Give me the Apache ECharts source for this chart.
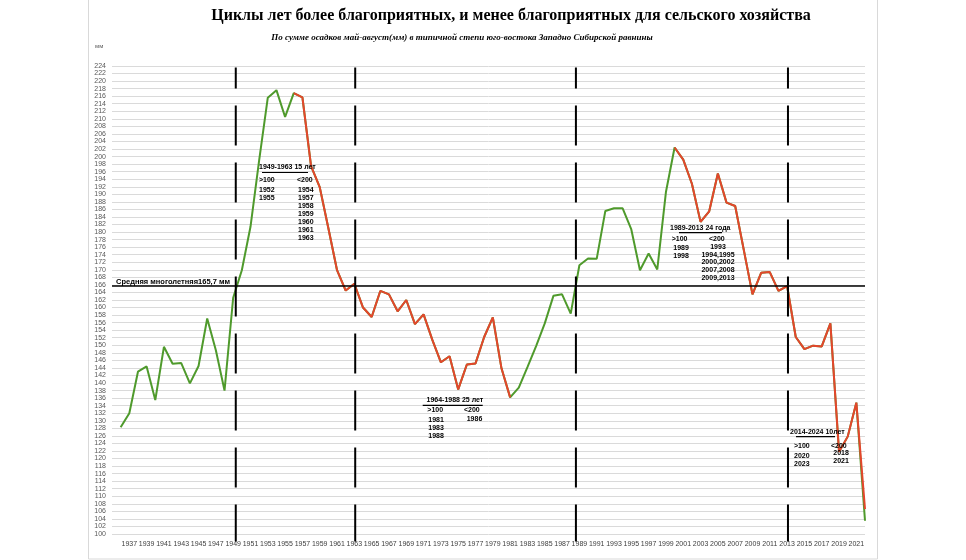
<!DOCTYPE html>
<html>
<head>
<meta charset="utf-8">
<script src="https://cdn.jsdelivr.net/npm/echarts@6/dist/echarts.min.js"></script>
<style>html,body{margin:0;padding:0;background:#fff}#c{width:966px;height:560px}</style>
</head>
<body>
<div id="c"></div>
<script>
// ---- data ----
const years = [];
for (let y = 1936; y <= 2022; y++) years.push(y);
const precipitation = [
  128.3, 132.0, 143.0, 144.4, 135.5, 149.6, 145.1, 145.3, 139.9, 144.5, // 1936-1945
  157.1, 148.7, 138.0, 162.6, 169.9, 181.4, 199.0, 215.6, 217.6, 210.5, // 1946-1955
  216.8, 215.7, 197.5, 191.9, 181.0, 169.9, 164.5, 166.3, 160.0, 157.5, // 1956-1965
  164.4, 163.5, 159.0, 162.0, 155.6, 158.2, 151.5, 145.5, 147.1, 138.3, // 1966-1975
  144.9, 145.2, 152.2, 157.4, 143.9, 136.2, 138.8, 144.2, 149.8, 155.8, // 1976-1985
  163.1, 163.5, 158.4, 171.2, 173.0, 172.9, 185.6, 186.3, 186.3, 180.7, // 1986-1995
  169.9, 174.3, 170.1, 190.6, 202.4, 199.2, 192.8, 182.7, 185.5, 195.5, // 1996-2005
  187.8, 186.9, 175.2, 163.5, 169.2, 169.4, 164.4, 165.7, 152.2, 149.0, // 2006-2015
  149.9, 149.7, 155.8, 121.8, 125.8, 134.8, 103.5                       // 2016-2022
];
// unfavourable (red) periods drawn over the green line
const redRanges = [[1956, 1981], [2000, 2022]];
const redEndValue2022 = 106.6;
const meanValue = 165.7;
const cycleBoundaries = [1949.3, 1963.1, 1988.6, 2013.1];
const boundaryBottom = 98.0;
const boundaryTop = 223.6;
const titleText = 'Циклы лет более благоприятных, и менее благоприятных для сельского хозяйства';
const subtitleText = 'По сумме осадков май-август(мм) в типичной степи юго-востока Западно Сибирской равнины';
const meanLabel = 'Средняя многолетняя165,7 мм';

// annotation blocks
const blocks = [
  { head: '1949-1963 15 лет', more: ['1952', '1955'], less: ['1954', '1957', '1958', '1959', '1960', '1961', '1963'] },
  { head: '1964-1988 25 лет', more: ['1981', '1983', '1988'], less: ['1986'] },
  { head: '1989-2013 24 года', more: ['1989', '1998'], less: ['1993', '1994,1995', '2000,2002', '2007,2008', '2009,2013'] },
  { head: '2014-2024 10лет', more: ['2020', '2023'], less: ['2018', '2021'] }
];

// ---- build ----
const greenData = years.map((y, i) => [y, precipitation[i]]);
const redData = years.map((y, i) => {
  const inRed = redRanges.some(r => y >= r[0] && y <= r[1]);
  if (!inRed) return [y, null];
  if (y === 2022) return [y, redEndValue2022];
  return [y, precipitation[i]];
});

const chart = echarts.init(document.getElementById('c'));

const layout = [
  { hx: 259, hy: 167, ul: [262, 308, 172.5], mx: 259, my: 180, lx: 297, ly: 180,
    moreX: 259, moreY: 189.7, lessX: 298, lessY: 190, step: 8, lessAlign: 'left' },
  { hx: 426.5, hy: 399.7, ul: [422.7, 482.7, 405.3], mx: 427.3, my: 410.3, lx: 464, ly: 410.3,
    moreX: 428.3, moreY: 420.3, lessX: 466.7, lessY: 418.7, step: 8, lessAlign: 'left' },
  { hx: 670, hy: 227.7, ul: [679, 722, 232.7], mx: 671.7, my: 239.3, lx: 709, ly: 239.3,
    moreX: 673.3, moreY: 247.7, lessX: 718, lessY: 246.7, step: 7.9, lessAlign: 'center' },
  { hx: 790, hy: 431.7, ul: [796, 835, 436.7], mx: 794, my: 445.7, lx: 831, ly: 445.7,
    moreX: 794, moreY: 455.7, lessX: 833.3, lessY: 453, step: 8, lessAlign: 'left' }
];

const annFont = 'bold 7px "Liberation Sans", Arial, sans-serif';
const graphics = [];
function txt(text, x, y, font, align, color) {
  graphics.push({ type: 'text', x: x, y: y, silent: true, z: 10,
    style: { text: text, font: font, fill: color || '#000', textAlign: align || 'left', textVerticalAlign: 'middle' } });
}
blocks.forEach((b, k) => {
  const L = layout[k];
  txt(b.head, L.hx, L.hy, annFont);
  graphics.push({ type: 'line', silent: true, z: 10,
    shape: { x1: L.ul[0], y1: L.ul[2], x2: L.ul[1], y2: L.ul[2] },
    style: { stroke: '#000', lineWidth: 1.2 } });
  txt('>100', L.mx, L.my, annFont);
  txt('<200', L.lx, L.ly, annFont);
  b.more.forEach((t, i) => txt(t, L.moreX, L.moreY + i * L.step, annFont));
  b.less.forEach((t, i) => txt(t, L.lessX, L.lessY + i * L.step, annFont, L.lessAlign));
});
txt(titleText, 511, 16, 'bold 16px "Liberation Serif", "Times New Roman", serif', 'center');
txt(subtitleText, 462, 38, 'italic bold 9px "Liberation Serif", "Times New Roman", serif', 'center');
txt('мм', 95, 46, '6px "Liberation Sans", Arial, sans-serif', 'left', '#595959');
txt(meanLabel, 116, 281.5, 'bold 7.5px "Liberation Sans", Arial, sans-serif');
graphics.push({ type: 'rect', silent: true, z: -1,
  shape: { x: 88.5, y: -1, width: 789, height: 560 },
  style: { fill: 'none', stroke: '#d9d9d9', lineWidth: 1 } });

chart.setOption({
  animation: false,
  backgroundColor: '#fff',
  grid: { left: 112, right: 101, top: 66, bottom: 26 },
  xAxis: {
    type: 'value', min: 1935, max: 2022, interval: 1,
    axisLine: { show: false }, axisTick: { show: false }, splitLine: { show: false },
    axisLabel: {
      margin: 7, fontSize: 7, color: '#404040', fontFamily: '"Liberation Sans", Arial, sans-serif',
      formatter: v => (v % 2 === 1 && v >= 1937) ? String(v) : ''
    }
  },
  yAxis: {
    type: 'value', min: 100, max: 224, interval: 2,
    axisLine: { show: false }, axisTick: { show: false },
    splitLine: { lineStyle: { color: '#dadada', width: 1 } },
    axisLabel: { margin: 6, fontSize: 7, color: '#595959', fontFamily: '"Liberation Sans", Arial, sans-serif' }
  },
  series: [
    {
      type: 'line', data: greenData, symbol: 'none', z: 3,
      lineStyle: { color: '#4f9a2c', width: 2 }, itemStyle: { color: '#4f9a2c' },
      markLine: {
        silent: true, symbol: 'none', label: { show: false },
        lineStyle: { color: '#000', width: 1.6, type: 'solid' },
        data: [{ yAxis: meanValue }]
      }
    },
    {
      type: 'line', data: redData, symbol: 'none', z: 4, connectNulls: false,
      lineStyle: { color: '#e4462c', width: 2 }, itemStyle: { color: '#e4462c' }
    },
    {
      type: 'custom', z: 5, silent: true, clip: false,
      data: cycleBoundaries.map(x => [x]),
      encode: { x: 0 },
      renderItem: function (params, api) {
        const x = api.value(0);
        const p0 = api.coord([x, boundaryBottom]);
        const p1 = api.coord([x, boundaryTop]);
        return {
          type: 'line',
          shape: { x1: p0[0], y1: p0[1], x2: p1[0], y2: p1[1] },
          style: { stroke: '#000', lineWidth: 2, lineDash: [40, 17], lineDashOffset: 3 }
        };
      }
    }
  ],
  graphic: graphics
});
</script>
</body>
</html>
